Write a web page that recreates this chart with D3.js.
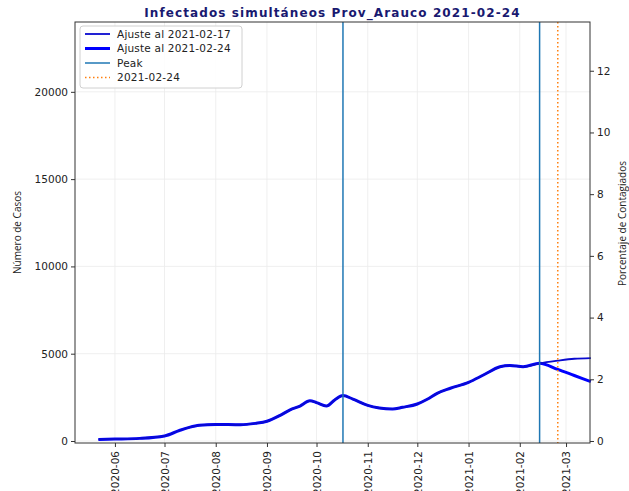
<!DOCTYPE html>
<html>
<head>
<meta charset="utf-8">
<script src="https://cdn.jsdelivr.net/npm/d3@7"></script>
<style>
  body { margin: 0; background: #fff; }
  text { font-family: "DejaVu Sans", sans-serif; }
</style>
</head>
<body>
<div id="chart"></div>
<script>
// Data
const fitDates = ["2020-05-22", "2020-06-01", "2020-06-16", "2020-07-01", "2020-07-10", "2020-07-16",
    "2020-07-22", "2020-08-01", "2020-08-16", "2020-08-25", "2020-09-01", "2020-09-09", "2020-09-15",
    "2020-09-21", "2020-09-27", "2020-10-01", "2020-10-07", "2020-10-12", "2020-10-17", "2020-10-23",
    "2020-11-01", "2020-11-08", "2020-11-16", "2020-11-22", "2020-12-01", "2020-12-07", "2020-12-13",
    "2020-12-21", "2021-01-01", "2021-01-10", "2021-01-20", "2021-01-26", "2021-02-03", "2021-02-13"];
const fitValues = [90, 110, 150, 290, 600, 780, 900, 950, 930, 1010, 1130, 1470, 1780, 2000, 2300,
    2200, 2000, 2350, 2600, 2400, 2040, 1890, 1830, 1930, 2120, 2390, 2730, 3020, 3360, 3780, 4250,
    4330, 4250, 4450];

// Tails after the fork
const tailDates = ["2021-02-13", "2021-02-24", "2021-03-06", "2021-03-16"];
const tail17 = [4450, 4600, 4710, 4750];
const tail24 = [4450, 4100, 3750, 3400];

const peakDates = ["2020-10-17", "2021-02-13"];
const reportDate = "2021-02-24";

const leftTicks = [0, 5000, 10000, 15000, 20000];
const rightTicks = [0, 2, 4, 6, 8, 10, 12];

const parse = d3.utcParse("%Y-%m-%d");

const W = 629, H = 491;
const margin = { top: 22, right: 39, bottom: 48, left: 75 };
const width = W - margin.left - margin.right;
const height = H - margin.top - margin.bottom;

const svg = d3.select("#chart").append("svg")
    .attr("width", W)
    .attr("height", H);

const g = svg.append("g")
    .attr("transform", `translate(${margin.left},${margin.top})`);

// Scales
const x = d3.scaleUtc()
    .domain([new Date(Date.UTC(2020, 4, 7, 20)), new Date(Date.UTC(2021, 2, 15, 12))])
    .range([0, width]);

const y = d3.scaleLinear()
    .domain([-115, 24000])
    .range([height, 0]);

const y2 = d3.scaleLinear()
    .domain([-0.065, 13.58])
    .range([height, 0]);

const monthTicks = d3.utcMonths(new Date(Date.UTC(2020, 5, 1)), new Date(Date.UTC(2021, 2, 2)));

// Grid
g.append("g").selectAll("line")
    .data(monthTicks)
    .join("line")
    .attr("x1", d => x(d)).attr("x2", d => x(d))
    .attr("y1", 0).attr("y2", height)
    .attr("stroke", "#ebebeb").attr("stroke-width", 0.8);

g.append("g").selectAll("line")
    .data(leftTicks)
    .join("line")
    .attr("x1", 0).attr("x2", width)
    .attr("y1", d => y(d)).attr("y2", d => y(d))
    .attr("stroke", "#ebebeb").attr("stroke-width", 0.8);

// Lines
const line = d3.line()
    .x(d => x(d[0]))
    .y(d => y(d[1]))
    .curve(d3.curveMonotoneX);

const base = fitDates.map((d, i) => [parse(d), fitValues[i]]);
const series17 = base.concat(tailDates.slice(1).map((d, i) => [parse(d), tail17[i + 1]]));
const series24 = base.concat(tailDates.slice(1).map((d, i) => [parse(d), tail24[i + 1]]));

g.append("path")
    .datum(series24)
    .attr("fill", "none")
    .attr("stroke", "#0000ff")
    .attr("stroke-width", 3)
    .attr("stroke-linejoin", "round")
    .attr("d", line);

g.append("path")
    .datum(series17)
    .attr("fill", "none")
    .attr("stroke", "#0a0ad0")
    .attr("stroke-width", 1.8)
    .attr("d", line);

// Peak lines
g.selectAll(".peak")
    .data(peakDates)
    .join("line")
    .attr("class", "peak")
    .attr("x1", d => x(parse(d))).attr("x2", d => x(parse(d)))
    .attr("y1", 0).attr("y2", height)
    .attr("stroke", "#1f77b4").attr("stroke-width", 1.5);

// Report date
g.append("line")
    .attr("x1", x(parse(reportDate))).attr("x2", x(parse(reportDate)))
    .attr("y1", 0).attr("y2", height)
    .attr("stroke", "#ff7f0e").attr("stroke-width", 1.5)
    .attr("stroke-dasharray", "1.5,2.5");

// Axes
const xAxis = d3.axisBottom(x).tickValues(monthTicks).tickFormat(d3.utcFormat("%Y-%m")).tickSize(4);
const yAxis = d3.axisLeft(y).tickValues(leftTicks).tickFormat(d3.format("d")).tickSize(4);
const y2Axis = d3.axisRight(y2).tickValues(rightTicks).tickSize(4);

const gx = g.append("g")
    .attr("transform", `translate(0,${height})`)
    .call(xAxis);
gx.selectAll("text")
    .attr("transform", "rotate(-90)")
    .attr("x", -8)
    .attr("y", 0)
    .attr("dy", "0.35em")
    .style("text-anchor", "end");

const gy = g.append("g").call(yAxis);
const gy2 = g.append("g").attr("transform", `translate(${width},0)`).call(y2Axis);

[gx, gy, gy2].forEach(a => {
    a.select(".domain").remove();
    a.selectAll(".tick line").attr("stroke", "#333");
    a.selectAll(".tick text").attr("fill", "#222").style("font-size", "10.5px")
        .style("font-family", "DejaVu Sans, sans-serif");
});

// Frame
g.append("rect")
    .attr("width", width).attr("height", height)
    .attr("fill", "none").attr("stroke", "#333").attr("stroke-width", 1);

// Title
svg.append("text")
    .attr("x", margin.left + width / 2)
    .attr("y", 17)
    .style("text-anchor", "middle")
    .style("font-weight", "bold")
    .style("font-size", "12px")
    .style("letter-spacing", "1.1px")
    .attr("fill", "#191970")
    .text("Infectados simultáneos Prov_Arauco 2021-02-24");

// Axis labels
svg.append("text")
    .attr("transform", `translate(21,${margin.top + height / 2}) rotate(-90)`)
    .style("text-anchor", "middle")
    .style("font-size", "10px")
    .style("font-family", "Open Sans, sans-serif")
    .attr("fill", "#222")
    .text("Número de Casos");

svg.append("text")
    .attr("transform", `translate(626,${margin.top + height / 2 - 9}) rotate(-90)`)
    .style("text-anchor", "middle")
    .style("font-size", "10px")
    .style("font-family", "Open Sans, sans-serif")
    .attr("fill", "#222")
    .text("Porcentaje de Contagiados");

// Legend
const legend = g.append("g").attr("transform", "translate(5,4)");
legend.append("rect")
    .attr("width", 162).attr("height", 62)
    .attr("rx", 3)
    .attr("fill", "white").attr("fill-opacity", 0.85)
    .attr("stroke", "#d0d0d0");

const legendItems = [
    { label: "Ajuste al 2021-02-17", color: "#0a0ad0", width: 1.8, dash: null },
    { label: "Ajuste al 2021-02-24", color: "#0000ff", width: 3, dash: null },
    { label: "Peak", color: "#1f77b4", width: 1.5, dash: null },
    { label: "2021-02-24", color: "#ff7f0e", width: 1.5, dash: "1.5,2.5" }
];

legendItems.forEach((d, i) => {
    const yy = 8 + i * 14.5;
    legend.append("line")
        .attr("x1", 5).attr("x2", 30)
        .attr("y1", yy).attr("y2", yy)
        .attr("stroke", d.color).attr("stroke-width", d.width)
        .attr("stroke-dasharray", d.dash);
    legend.append("text")
        .attr("x", 37).attr("y", yy)
        .attr("dy", "0.35em")
        .style("font-size", "10.5px")
        .style("letter-spacing", "0.2px")
        .attr("fill", "#222")
        .text(d.label);
});
</script>
</body>
</html>
